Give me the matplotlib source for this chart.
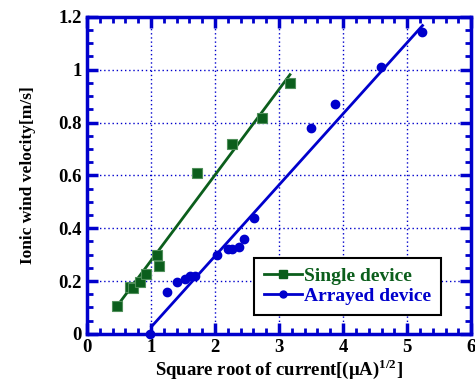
import matplotlib.pyplot as plt
from matplotlib.ticker import MultipleLocator, FuncFormatter

plt.rcParams['font.family'] = ['Liberation Serif', 'DejaVu Serif']
plt.rcParams['mathtext.fontset'] = 'custom'
plt.rcParams['mathtext.bf'] = 'Liberation Serif:bold'
plt.rcParams['mathtext.rm'] = 'Liberation Serif'

green = '#0b5e1c'
blue = '#0000cc'

# single device measurements
single_x = [0.47, 0.67, 0.72, 0.83, 0.93, 1.10, 1.125, 1.72, 2.27, 2.74, 3.17]
single_y = [0.106, 0.178, 0.175, 0.197, 0.225, 0.297, 0.256, 0.608, 0.717, 0.818, 0.95]
# fitted line for single device
single_fit_x = [0.5, 3.17]
single_fit_y = [0.115, 0.981]

# arrayed device measurements
array_x = [0.98, 1.25, 1.41, 1.53, 1.61, 1.69, 2.03, 2.21, 2.27, 2.38, 2.46, 2.61,
           3.5, 3.875, 4.59, 5.23]
array_y = [0.0, 0.157, 0.198, 0.207, 0.218, 0.218, 0.298, 0.32, 0.32, 0.33, 0.36, 0.438,
           0.781, 0.871, 1.011, 1.143]
# fitted line for arrayed device
array_fit_x = [1.01, 5.24]
array_fit_y = [0.028, 1.167]

fig = plt.figure(figsize=(4.75, 3.91), dpi=100)
ax = fig.add_axes([0.183, 0.146, 0.809, 0.811])

# data points
ax.plot(single_x, single_y, 's', color=green, markersize=7, markeredgecolor='#4f8f5a',
        markeredgewidth=0.8, zorder=4, clip_on=False)
ax.plot(array_x, array_y, 'o', color=blue, markersize=6, zorder=4, clip_on=False)
# fit lines
ax.plot(single_fit_x, single_fit_y, '-', color=green, linewidth=2, zorder=3)
ax.plot(array_fit_x, array_fit_y, '-', color=blue, linewidth=2, zorder=3)

# legend handles
l1, = ax.plot([], [], '-s', color=green, linewidth=2, markersize=6)
l2, = ax.plot([], [], '-o', color=blue, linewidth=2, markersize=5)
leg = ax.legend([l1, l2], ['Single device', 'Arrayed device'],
                loc='lower right', bbox_to_anchor=(0.922, 0.06),
                fancybox=False, framealpha=1, edgecolor='black',
                prop={'weight': 'bold', 'size': 14}, handlelength=2.0,
                handletextpad=0.1, borderpad=0.5, labelspacing=0.12,
                borderaxespad=0)
leg.get_frame().set_linewidth(1.5)
leg.set_zorder(5)
leg.texts[0].set_color(green)
leg.texts[1].set_color(blue)

ax.set_xlim(0, 6)
ax.set_ylim(0, 1.2)
ax.xaxis.set_major_locator(MultipleLocator(1))
ax.xaxis.set_minor_locator(MultipleLocator(0.2))
ax.yaxis.set_major_locator(MultipleLocator(0.2))
ax.yaxis.set_minor_locator(MultipleLocator(0.05))
ax.yaxis.set_major_formatter(FuncFormatter(lambda v, p: '%g' % round(v, 2)))

ax.grid(True, which='major', color=blue, linestyle=(0, (1, 2)), linewidth=1)

for s in ax.spines.values():
    s.set_color(blue)
    s.set_linewidth(2.5)
    s.set_zorder(6)

ax.tick_params(which='both', direction='in', top=True, right=True, color=blue,
               labelsize=13.5)
ax.tick_params(which='major', length=8, width=2.5)
ax.tick_params(which='minor', length=4, width=2)
for lab in ax.get_xticklabels() + ax.get_yticklabels():
    lab.set_fontweight('bold')

ax.set_xlabel(r'Square root of current[(μA)$^{\mathbf{1/2}}$]', fontsize=13.5,
              fontweight='bold', labelpad=1)
ax.set_ylabel('Ionic wind velocity[m/s]', fontsize=12.5, fontweight='bold', labelpad=16)

fig.savefig('out.png', dpi=100)
